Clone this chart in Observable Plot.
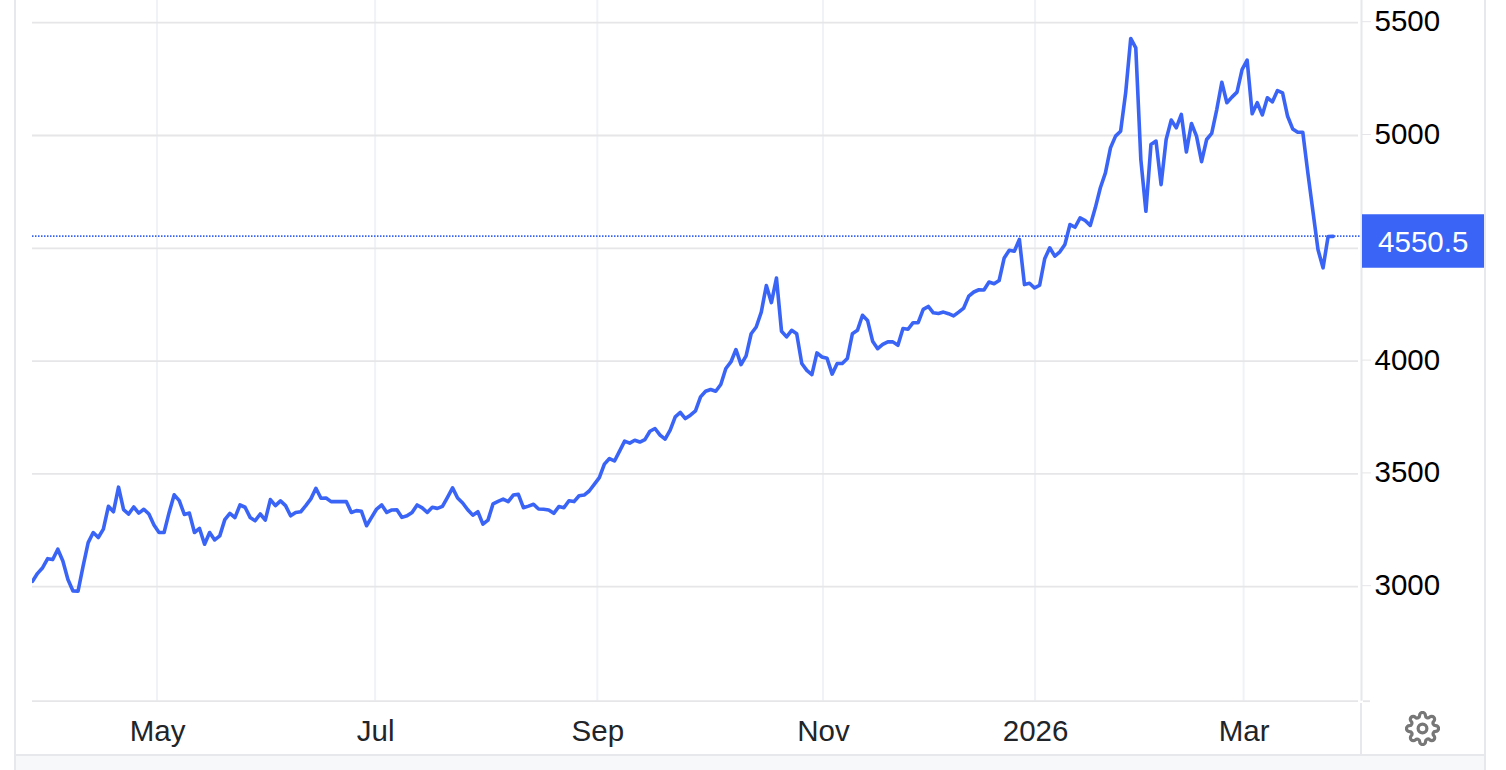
<!DOCTYPE html>
<html>
<head>
<meta charset="utf-8">
<script src="https://cdn.jsdelivr.net/npm/d3@7"></script>
<script src="https://cdn.jsdelivr.net/npm/@observablehq/plot@0.6"></script>
<style>
html,body{margin:0;padding:0;background:#fff;overflow:hidden}
#page{position:relative;width:1506px;height:770px;font-family:"Liberation Sans",Arial,sans-serif}
#chart{position:absolute;left:0;top:0}
.edge{position:absolute;background:#e6e8ec}
#foot{position:absolute;left:16px;width:1469px;top:756px;height:14px;background:#f7f8fa}
#gear{position:absolute;left:1405px;top:711px;width:35px;height:35px}
</style>
</head>
<body>
<div id="page">
  <div id="foot"></div>
  <div class="edge" style="left:14px;top:0;width:2px;height:770px"></div>
  <div class="edge" style="left:1484px;top:0;width:2px;height:770px"></div>
  <div class="edge" style="left:16px;top:754px;width:1469px;height:2px"></div>
  <div class="edge" style="left:1360px;top:703px;width:2px;height:52px"></div>
  <div id="chart"></div>
  <svg id="gear" viewBox="0 0 24 24" fill="none" stroke="#777" stroke-width="2.2" stroke-linejoin="round">
    <circle cx="12" cy="12" r="3"></circle>
    <path d="M19.4 15a1.65 1.65 0 0 0 .33 1.82l.06.06a2 2 0 0 1 0 2.83 2 2 0 0 1-2.83 0l-.06-.06a1.65 1.65 0 0 0-1.82-.33 1.65 1.65 0 0 0-1 1.51V21a2 2 0 0 1-2 2 2 2 0 0 1-2-2v-.09A1.65 1.65 0 0 0 9 19.4a1.65 1.65 0 0 0-1.82.33l-.06.06a2 2 0 0 1-2.83 0 2 2 0 0 1 0-2.83l.06-.06a1.65 1.65 0 0 0 .33-1.82 1.65 1.65 0 0 0-1.51-1H3a2 2 0 0 1-2-2 2 2 0 0 1 2-2h.09A1.65 1.65 0 0 0 4.6 9a1.65 1.65 0 0 0-.33-1.82l-.06-.06a2 2 0 0 1 0-2.83 2 2 0 0 1 2.83 0l.06.06a1.65 1.65 0 0 0 1.82.33H9a1.65 1.65 0 0 0 1-1.51V3a2 2 0 0 1 2-2 2 2 0 0 1 2 2v.09a1.65 1.65 0 0 0 1 1.51 1.65 1.65 0 0 0 1.82-.33l.06-.06a2 2 0 0 1 2.83 0 2 2 0 0 1 0 2.83l-.06.06a1.65 1.65 0 0 0-.33 1.82V9a1.65 1.65 0 0 0 1.51 1H21a2 2 0 0 1 2 2 2 2 0 0 1-2 2h-.09a1.65 1.65 0 0 0-1.51 1z"></path>
  </svg>
</div>
<script>
// Closing values, one per trading session
const closes = [
3022,3057,3082,3122,3118,3164,3112,3030,2979,2978,3089,3193,3238,3216,3253,3354,3330,3439,3339,3320,
3351,3324,3341,3320,3271,3238,3238,3327,3405,3379,3318,3324,3238,3256,3186,3238,3205,3223,3295,3323,
3304,3360,3350,3305,3290,3320,3293,3384,3357,3378,3357,3312,3327,3330,3357,3387,3434,3390,3391,3375,
3375,3375,3375,3327,3335,3332,3268,3305,3342,3360,3327,3338,3339,3305,3312,3327,3360,3347,3327,3350,
3345,3354,3394,3436,3391,3369,3339,3315,3330,3275,3293,3365,3376,
3386,3375,3404,3407,3348,3355,3363,3342,3341,3338,3323,3353,3348,3379,3375,3401,3404,3422,3451,3481,
3541,3566,3555,3599,3643,3634,3647,3639,3650,3687,3699,3670,3652,3692,3751,3770,3743,3758,3777,3839,
3864,3872,3864,3894,3965,3994,4049,3982,4021,4119,4149,4215,4333,4257,4366,4130,4105,4134,4119,3987,
3957,3938,4034,4016,4010,3940,3987,3987,4009,4119,4134,4201,4178,4086,4053,4072,4083,4083,4068,4142,
4139,4168,4168,4227,4240,4212,4209,4215,4208,4198,4215,4233,4286,4304,4314,4313,4348,4341,4355,
4455,4489,4485,4537,4337,4343,4322,4334,4451,4500,4463,4482,4515,4603,4591,4633,4621,4599,4677,4766,
4832,4943,4995,5017,5187,5428,5386,4891,4662,4958,4973,4780,4980,5066,5032,5091,4925,5051,4995,4882,
4980,5007,5113,5234,5143,5168,5190,5290,5332,5094,5143,5089,5165,5147,5197,5187,5083,5027,5012,5012,
4832,4662,4492,4411,4550,4550.5
];
const lastValue = 4550.5;
const lastLabel = "4550.5";
const monthLabels = ["May","Jul","Sep","Nov","2026","Mar"];
const monthSessions = [24.7,67.8,111.7,156.3,198.2,239.4];
const gridValues = [3000,3500,4000,4500,5000,5500];
const valueLabels = [3000,3500,4000,5000,5500];
const xDomain = [0,262.6];
const yDomain = [2494.7,5600.6];

const blue = "#3a64f6";
const gridH = "#e6e6e8";
const gridV = "#eff2f6";
const rows = closes.map((value,session)=>({session,value}));

const plot = Plot.plot({
  width:1506,height:770,
  marginLeft:32,marginRight:145,marginTop:0,marginBottom:69.3,
  style:{fontFamily:"'Liberation Sans',Arial,sans-serif",background:"transparent",overflow:"visible"},
  x:{domain:xDomain,label:null},
  y:{domain:yDomain,label:null},
  marks:[
    Plot.ruleX(monthSessions,{stroke:gridV,strokeWidth:2,dx:-0.5}),
    Plot.ruleY(gridValues,{stroke:gridH,strokeWidth:1.8,insetRight:3,dy:-0.5}),
    Plot.ruleY([yDomain[0]],{stroke:gridH,strokeWidth:1.8,insetRight:3}),
    Plot.ruleY([yDomain[0]],{stroke:gridH,strokeWidth:1.8,insetLeft:1331,insetRight:-9}),
    Plot.ruleX([xDomain[1]],{stroke:"#e6e8ec",strokeWidth:2}),
    Plot.axisX({anchor:"bottom",ticks:monthSessions,tickFormat:(d,i)=>monthLabels[i],tickSize:0,tickPadding:19,fontSize:29.5,fill:"#212529",label:null}),
    Plot.axisY({anchor:"right",ticks:valueLabels,tickFormat:d=>String(d),tickSize:9,tickPadding:4,fontSize:29.5,stroke:gridH,fill:"#000",label:null,dy:-1.5}),
    Plot.ruleY([lastValue],{stroke:blue,strokeWidth:1.6,strokeDasharray:"1.5 1.5",dy:-1.3}),
    Plot.line(rows,{x:"session",y:"value",stroke:blue,strokeWidth:3.6,clip:true,dy:-1}),
    Plot.ruleY([lastValue],{stroke:blue,strokeWidth:53.5,dy:3.5,insetLeft:1330,insetRight:-123}),
    Plot.text([lastLabel],{x:()=>xDomain[1],y:()=>lastValue,text:d=>d,dx:61.7,dy:5,fill:"#fff",fontSize:29.5,textAnchor:"middle"})
  ]
});
document.getElementById("chart").appendChild(plot);
</script>
</body>
</html>
